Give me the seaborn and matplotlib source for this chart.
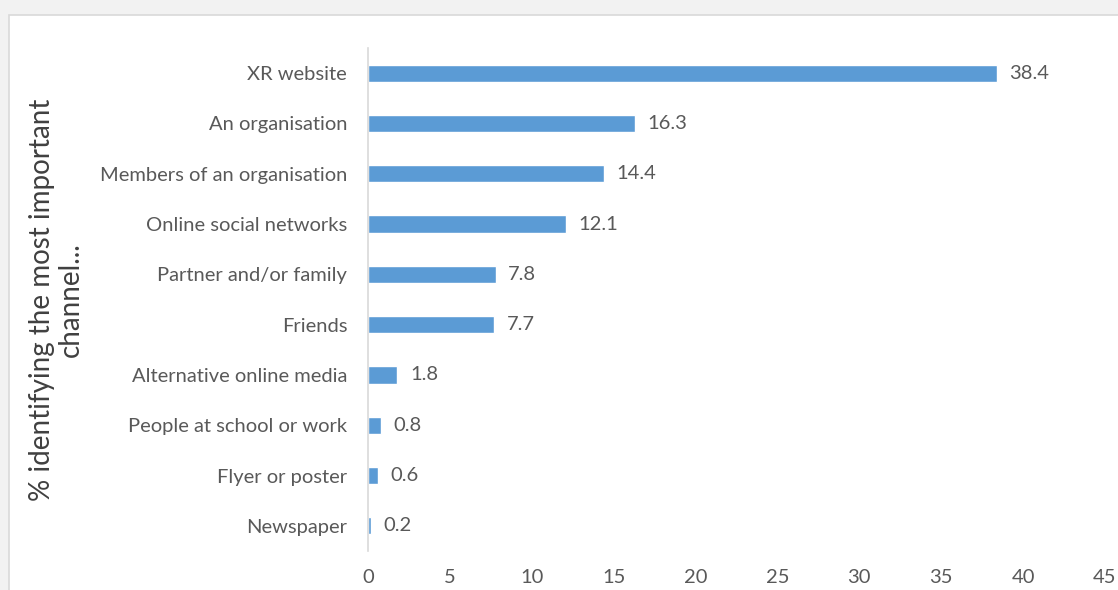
import matplotlib
matplotlib.use("Agg")
import matplotlib.pyplot as plt
import seaborn as sns
import pandas as pd
from matplotlib.patches import Rectangle

channels = [
    "XR website",
    "An organisation",
    "Members of an organisation",
    "Online social networks",
    "Partner and/or family",
    "Friends",
    "Alternative online media",
    "People at school or work",
    "Flyer or poster",
    "Newspaper",
]
shares = [38.4, 16.3, 14.4, 12.1, 7.8, 7.7, 1.8, 0.8, 0.6, 0.2]
x_ticks = [0, 5, 10, 15, 20, 25, 30, 35, 40, 45]
y_title = "% identifying the most important\nchannel..."

sns.set_theme(style="white")
plt.rcParams["font.family"] = ["Lato", "DejaVu Sans"]

text_grey = "#595959"
bar_blue = "#5b9bd5"

df = pd.DataFrame({"channel": channels, "share": shares})

fig = plt.figure(figsize=(11.18, 5.9), dpi=100, facecolor="#f2f2f2")
# white chart area with a thin border, running off the right/bottom edges
fig.patches.append(Rectangle((9 / 1118, -0.1), 1.2, 1 - 15 / 590 + 0.1,
                             transform=fig.transFigure, facecolor="white",
                             edgecolor="#d9d9d9", linewidth=1.2, zorder=-10))

ax = fig.add_axes([368 / 1118, 1 - 551 / 590, (1105 - 368) / 1118, (551 - 48) / 590])
ax.set_facecolor("none")

sns.barplot(data=df, y="channel", x="share", orient="h", color=bar_blue,
            width=0.34, saturation=1, ax=ax)

ax.set_xlim(0, 45)
ax.set_xticks(x_ticks)
ax.set_xticklabels([str(t) for t in x_ticks])
ax.tick_params(axis="both", length=0, labelsize=14.5, labelcolor=text_grey)
ax.tick_params(axis="y", pad=15)
ax.tick_params(axis="x", pad=13)

for side in ("top", "right", "bottom"):
    ax.spines[side].set_visible(False)
ax.spines["left"].set_color("#d9d9d9")
ax.spines["left"].set_linewidth(1.2)

for container in ax.containers:
    ax.bar_label(container, labels=[f"{v:.1f}" for v in shares], padding=9,
                 fontsize=14.5, color=text_grey)

ax.set_xlabel("")
ax.set_ylabel(y_title, fontsize=20, color="#404040", labelpad=0,
              multialignment="center", linespacing=1.15)
ax.yaxis.set_label_coords((84 - 368) / 737, 0.5, transform=ax.transAxes)

fig.savefig("out.png", dpi=100, facecolor=fig.get_facecolor())
